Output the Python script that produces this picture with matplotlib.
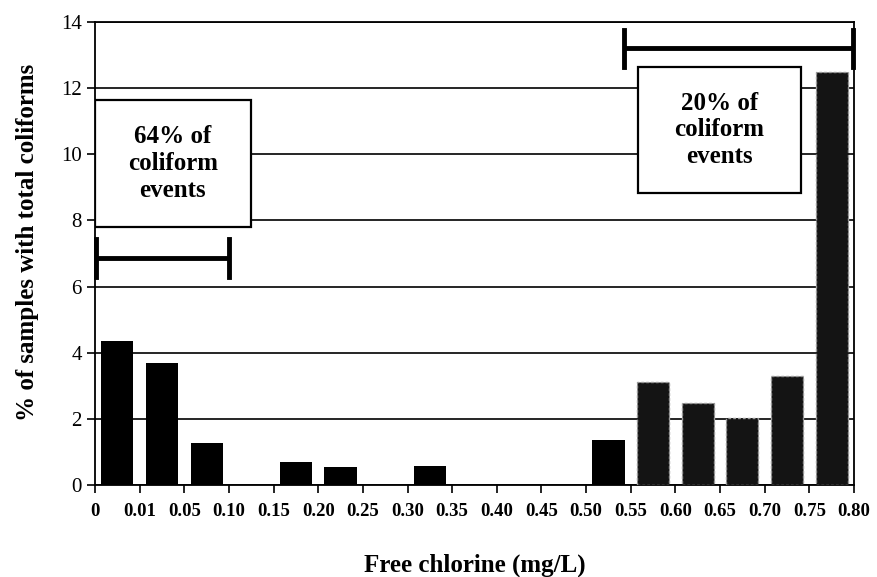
"""Coliform occurrence vs free chlorine bar chart."""

import matplotlib

matplotlib.use("Agg")
import matplotlib.pyplot as plt
from matplotlib.patches import Rectangle

# chlorine bins (tick labels sit on the bin edges)
EDGE_LABELS = ["0", "0.01", "0.05", "0.10", "0.15", "0.20", "0.25", "0.30", "0.35",
               "0.40", "0.45", "0.50", "0.55", "0.60", "0.65", "0.70", "0.75", "0.80"]
# % of samples with total coliforms, one value per bin
PERCENT = [4.35, 3.7, 1.26, 0, 0.7, 0.53, 0, 0.58, 0, 0, 0, 1.36,
           3.1, 2.48, 2.03, 3.3, 12.5]
# bins drawn with the stippled (grey dotted edge) style
STIPPLED = [False] * 12 + [True] * 5

LEFT_NOTE = "64% of\ncoliform\nevents"
RIGHT_NOTE = "20% of\ncoliform\nevents"

SERIF = ["Liberation Serif", "DejaVu Serif"]

fig = plt.figure(figsize=(8.77, 5.77), dpi=100)
ax = fig.add_axes([0.1083, 0.1594, 0.8655, 0.8025])

n = len(PERCENT)
xs = list(range(n))
for x, val, stip in zip(xs, PERCENT, STIPPLED):
    if val <= 0:
        continue
    if stip:
        ax.bar(x, val, width=0.72, color="#141414", edgecolor="#9a9a9a",
               linewidth=1.0, linestyle=(0, (2, 1.5)), zorder=3)
    else:
        ax.bar(x, val, width=0.72, color="black", zorder=3)

ax.set_xlim(-0.5, n - 0.5)
ax.set_ylim(0, 14)
ax.set_xticks([i - 0.5 for i in range(n + 1)])
ax.set_xticklabels(EDGE_LABELS, fontfamily=SERIF, fontweight="bold", fontsize=13.5)
ax.set_yticks(range(0, 15, 2))
ax.set_yticklabels([str(v) for v in range(0, 15, 2)], fontfamily=SERIF,
                   fontsize=15)
ax.tick_params(axis="both", direction="out", length=6, width=1.2, color="black")
ax.tick_params(axis="x", pad=7)
ax.yaxis.grid(True, color="black", linewidth=1.2, zorder=0)
ax.set_axisbelow(True)
for sp in ax.spines.values():
    sp.set_linewidth(1.3)

ax.set_xlabel("Free chlorine (mg/L)", fontfamily=SERIF, fontweight="bold",
              fontsize=18, labelpad=24)
ax.set_ylabel("% of samples with total coliforms", fontfamily=SERIF,
              fontweight="bold", fontsize=18)
ax.yaxis.set_label_coords(-0.074, 0.523)

# brackets marking the chlorine ranges
def bracket(x0, x1, y, h):
    ax.plot([x0, x1], [y, y], color="black", linewidth=3.5, zorder=5,
            solid_capstyle="butt", clip_on=False)
    for xe in (x0, x1):
        ax.plot([xe, xe], [y - h, y + h], color="black", linewidth=3.5,
                zorder=5, clip_on=False)

bracket(-0.48, 2.5, 6.86, 0.58)
bracket(11.35, 16.47, 13.2, 0.55)

# annotation boxes
for (x0, y0, x1, y1, txt) in [(-0.5, 7.8, 2.99, 11.64, LEFT_NOTE),
                              (11.66, 8.83, 15.31, 12.64, RIGHT_NOTE)]:
    ax.add_patch(Rectangle((x0, y0), x1 - x0, y1 - y0, facecolor="white",
                           edgecolor="black", linewidth=1.6, zorder=6))
    ax.text((x0 + x1) / 2, (y0 + y1) / 2, txt, ha="center", va="center",
            fontfamily=SERIF, fontweight="bold", fontsize=18, linespacing=1.2,
            zorder=7)

fig.savefig("out.png", dpi=100)
